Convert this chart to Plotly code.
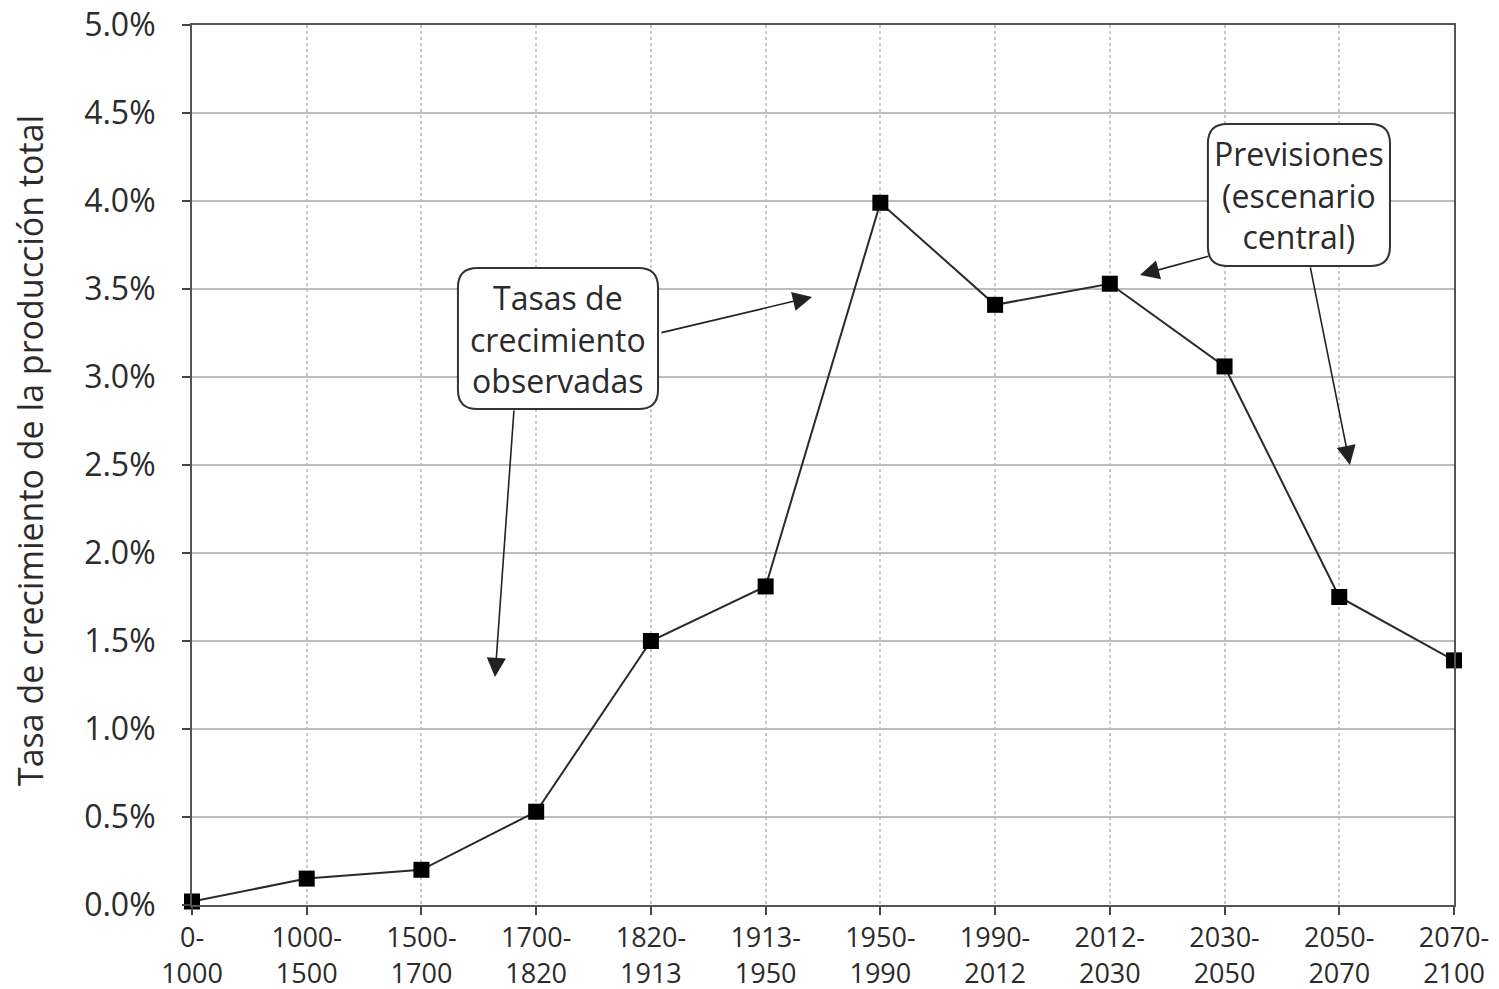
import plotly.graph_objects as go

periods = ["0-<br>1000", "1000-<br>1500", "1500-<br>1700", "1700-<br>1820", "1820-<br>1913",
           "1913-<br>1950", "1950-<br>1990", "1990-<br>2012", "2012-<br>2030", "2030-<br>2050",
           "2050-<br>2070", "2070-<br>2100"]
growth = [0.02, 0.15, 0.20, 0.53, 1.50, 1.81, 3.99, 3.41, 3.53, 3.06, 1.75, 1.39]
y_ticks = [0, 0.5, 1.0, 1.5, 2.0, 2.5, 3.0, 3.5, 4.0, 4.5, 5.0]
y_title = "Tasa de crecimiento de la producción total"

FONT = "Open Sans"
TXT = "#2b2b2b"

fig = go.Figure()
fig.add_trace(go.Scatter(
    x=list(range(len(periods))), y=growth, mode="lines+markers",
    line=dict(color="#2a2a2a", width=2),
    marker=dict(symbol="square", size=16, color="black"),
    cliponaxis=False, showlegend=False,
))

def rounded_box(x0, x1, y0, y1, rx, ry):
    return (f"M {x0+rx},{y1} L {x1-rx},{y1} Q {x1},{y1} {x1},{y1-ry} "
            f"L {x1},{y0+ry} Q {x1},{y0} {x1-rx},{y0} "
            f"L {x0+rx},{y0} Q {x0},{y0} {x0},{y0+ry} "
            f"L {x0},{y1-ry} Q {x0},{y1} {x0+rx},{y1} Z")

rx, ry = 0.17, 0.11
boxes = [
    (2.318, 4.062, 2.818, 3.619, "Tasas de<br>crecimiento<br>observadas"),
    (8.855, 10.442, 3.631, 4.438, "Previsiones<br>(escenario<br>central)"),
]
for x0, x1, y0, y1, txt in boxes:
    fig.add_shape(type="path", path=rounded_box(x0, x1, y0, y1, rx, ry),
                  xref="x", yref="y", line=dict(color="#333333", width=2),
                  fillcolor="white", layer="above")
    fig.add_annotation(x=(x0 + x1) / 2, y=(y0 + y1) / 2, xref="x", yref="y",
                       text=txt, showarrow=False,
                       font=dict(family=FONT, size=32, color=TXT))

arrows = [
    (4.079, 3.25, 5.404, 3.455),
    (2.807, 2.818, 2.641, 1.295),
    (8.873, 3.688, 8.263, 3.58),
    (9.745, 3.631, 10.093, 2.5),
]
for ax, ay, x, y in arrows:
    fig.add_annotation(x=x, y=y, ax=ax, ay=ay, xref="x", yref="y", axref="x", ayref="y",
                       text="", showarrow=True, arrowhead=2, arrowsize=2.4,
                       arrowwidth=1.6, arrowcolor="#222222")

fig.add_annotation(x=-0.1284, y=0.517, xref="paper", yref="paper", text=y_title,
                   textangle=-90, showarrow=False, xanchor="center", yanchor="middle",
                   font=dict(family=FONT, size=34, color=TXT))

fig.update_layout(
    width=1499, height=989,
    margin=dict(l=184, r=53, t=17, b=92),
    paper_bgcolor="white", plot_bgcolor="white",
    font=dict(family=FONT, size=30, color=TXT),
)
fig.update_xaxes(
    range=[0, len(periods) - 1], automargin=False,
    tickmode="array", tickvals=list(range(len(periods))), ticktext=periods,
    showgrid=True, gridcolor="#c8c8c8", gridwidth=2, griddash="dot",
    showline=True, linecolor="#555555", linewidth=2, mirror=True,
    ticks="outside", ticklen=8, tickwidth=2, tickcolor="#444444",
    tickfont=dict(family=FONT, size=27, color=TXT), zeroline=False,
    ticklabeloverflow="allow",
)
fig.update_yaxes(
    range=[0, 5], tickmode="array", tickvals=y_ticks, automargin=False,
    ticktext=[f"{v:.1f}%" for v in y_ticks],
    showgrid=True, gridcolor="#bdbdbd", gridwidth=2,
    showline=True, linecolor="#555555", linewidth=2, mirror=True,
    ticks="outside", ticklen=8, tickwidth=2, tickcolor="#444444",
    tickfont=dict(family=FONT, size=32, color=TXT), zeroline=False,
    ticklabelstandoff=20, ticklabeloverflow="allow",
)

fig.write_html("out.html")
